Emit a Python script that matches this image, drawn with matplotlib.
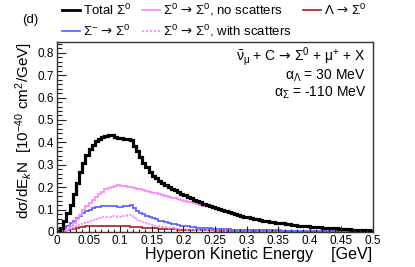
import numpy as np
import matplotlib
matplotlib.use("Agg")
import matplotlib.pyplot as plt
from matplotlib.lines import Line2D
from matplotlib.ticker import MultipleLocator, FixedLocator

plt.rcParams['font.family'] = ['Liberation Sans', 'DejaVu Sans']
plt.rcParams['mathtext.fontset'] = 'custom'
plt.rcParams['mathtext.rm'] = 'Liberation Sans'
plt.rcParams['mathtext.it'] = 'Liberation Sans:italic'
plt.rcParams['mathtext.bf'] = 'Liberation Sans:bold'
plt.rcParams['mathtext.sf'] = 'Liberation Sans'
plt.rcParams['mathtext.cal'] = 'DejaVu Sans'

# ---------------- data (100 bins, width 0.005 GeV) ----------------
e_min, e_max, n_bins = 0.0, 0.5, 100

total = [0.005, 0.02, 0.05, 0.085, 0.12, 0.17, 0.22, 0.27, 0.31, 0.345,
         0.37, 0.39, 0.405, 0.415, 0.423, 0.428, 0.432, 0.431, 0.426, 0.42,
         0.418, 0.416, 0.416, 0.41, 0.385, 0.36, 0.335, 0.31, 0.29, 0.27,
         0.252, 0.24, 0.228, 0.218, 0.21, 0.202, 0.194, 0.186, 0.178, 0.17,
         0.163, 0.157, 0.15, 0.144, 0.139, 0.133, 0.127, 0.122, 0.116, 0.111,
         0.106, 0.101, 0.096, 0.092, 0.088, 0.084, 0.08, 0.076, 0.072, 0.069,
         0.065, 0.062, 0.059, 0.056, 0.053, 0.05, 0.048, 0.046, 0.044, 0.042,
         0.04, 0.038, 0.036, 0.034, 0.032, 0.031, 0.029, 0.028, 0.026, 0.025,
         0.024, 0.023, 0.022, 0.021, 0.02, 0.019, 0.018, 0.017, 0.016, 0.015,
         0.014, 0.013, 0.012, 0.011, 0.01, 0.009, 0.008, 0.008, 0.007, 0.006]

sig0_noscat = [0.0, 0.003, 0.008, 0.015, 0.025, 0.04, 0.058, 0.078, 0.097, 0.115,
               0.13, 0.145, 0.158, 0.17, 0.18, 0.19, 0.197, 0.203, 0.207, 0.208,
               0.207, 0.205, 0.203, 0.2, 0.197, 0.194, 0.191, 0.188, 0.184, 0.18,
               0.176, 0.172, 0.168, 0.164, 0.16, 0.157, 0.153, 0.15, 0.146, 0.142,
               0.139, 0.135, 0.132, 0.128, 0.125, 0.121, 0.117, 0.114, 0.11, 0.106,
               0.102, 0.098, 0.094, 0.09, 0.086, 0.082, 0.078, 0.074, 0.071, 0.067,
               0.064, 0.06, 0.057, 0.054, 0.051, 0.048, 0.046, 0.044, 0.042, 0.04,
               0.038, 0.036, 0.034, 0.032, 0.03, 0.029, 0.027, 0.026, 0.024, 0.023,
               0.022, 0.021, 0.02, 0.019, 0.018, 0.017, 0.016, 0.015, 0.014, 0.013,
               0.012, 0.011, 0.011, 0.01, 0.009, 0.008, 0.007, 0.007, 0.006, 0.005]

sigm = [0.002, 0.008, 0.018, 0.028, 0.038, 0.05, 0.062, 0.073, 0.083, 0.092,
        0.099, 0.105, 0.11, 0.113, 0.115, 0.116, 0.116, 0.115, 0.114, 0.113,
        0.113, 0.114, 0.118, 0.122, 0.105, 0.095, 0.087, 0.08, 0.073, 0.067,
        0.061, 0.056, 0.051, 0.047, 0.043, 0.04, 0.037, 0.034, 0.031, 0.029,
        0.027, 0.025, 0.023, 0.021, 0.02, 0.019, 0.018, 0.017, 0.016, 0.015,
        0.014, 0.013, 0.013, 0.012, 0.012, 0.011, 0.011, 0.01, 0.01, 0.009,
        0.009, 0.008, 0.008, 0.008, 0.008, 0.008, 0.007, 0.007, 0.007, 0.007,
        0.007, 0.006, 0.006, 0.006, 0.006, 0.006, 0.005, 0.005, 0.005, 0.005,
        0.005, 0.004, 0.004, 0.004, 0.004, 0.004, 0.003, 0.003, 0.003, 0.003,
        0.003, 0.002, 0.002, 0.002, 0.002, 0.002, 0.002, 0.002, 0.002, 0.002]

sig0_scat = [0.0, 0.002, 0.005, 0.009, 0.014, 0.02, 0.026, 0.032, 0.038, 0.044,
             0.05, 0.055, 0.059, 0.063, 0.066, 0.068, 0.069, 0.07, 0.07, 0.069,
             0.069, 0.072, 0.076, 0.078, 0.062, 0.055, 0.05, 0.045, 0.04, 0.036,
             0.032, 0.029, 0.026, 0.023, 0.021, 0.019, 0.017, 0.015, 0.014, 0.013,
             0.012, 0.011, 0.01, 0.009, 0.009, 0.008, 0.008, 0.007, 0.007, 0.006,
             0.006, 0.005, 0.005, 0.005, 0.005, 0.005, 0.004, 0.004, 0.004, 0.004,
             0.004, 0.003, 0.003, 0.003, 0.003, 0.003, 0.003, 0.003, 0.003, 0.003,
             0.003, 0.002, 0.002, 0.002, 0.002, 0.002, 0.002, 0.002, 0.002, 0.002,
             0.002, 0.002, 0.002, 0.002, 0.002, 0.002, 0.001, 0.001, 0.001, 0.001,
             0.001, 0.001, 0.001, 0.001, 0.001, 0.001, 0.001, 0.001, 0.001, 0.001]

lam = [0.001, 0.003, 0.006, 0.009, 0.012, 0.015, 0.018, 0.021, 0.023, 0.025,
       0.026, 0.027, 0.028, 0.028, 0.028, 0.028, 0.028, 0.027, 0.027, 0.026,
       0.026, 0.025, 0.025, 0.024, 0.023, 0.022, 0.021, 0.02, 0.019, 0.018,
       0.017, 0.016, 0.015, 0.014, 0.014, 0.013, 0.012, 0.012, 0.011, 0.011,
       0.01, 0.01, 0.009, 0.009, 0.008, 0.008, 0.008, 0.007, 0.007, 0.007,
       0.006, 0.006, 0.006, 0.005, 0.005, 0.005, 0.005, 0.004, 0.004, 0.004,
       0.004, 0.003, 0.003, 0.003, 0.003, 0.003, 0.003, 0.003, 0.003, 0.003,
       0.003, 0.003, 0.002, 0.002, 0.002, 0.002, 0.002, 0.002, 0.002, 0.002,
       0.002, 0.002, 0.002, 0.002, 0.002, 0.001, 0.001, 0.001, 0.001, 0.001,
       0.001, 0.001, 0.001, 0.001, 0.001, 0.001, 0.001, 0.001, 0.001, 0.001]

ARROW = r'$\mathcal{→}$'
labels = ['Total Σ$^{0}$',
          'Σ$^{-}$ ' + ARROW + ' Σ$^{0}$',
          'Σ$^{0}$ ' + ARROW + ' Σ$^{0}$, no scatters',
          'Σ$^{0}$ ' + ARROW + ' Σ$^{0}$, with scatters',
          'Λ ' + ARROW + ' Σ$^{0}$']

x_ticks = [0, 0.05, 0.1, 0.15, 0.2, 0.25, 0.3, 0.35, 0.4, 0.45, 0.5]
x_ticklabels = ['0', '0.05', '0.1', '0.15', '0.2', '0.25', '0.3', '0.35', '0.4', '0.45', '0.5']
y_ticks = [0, 0.1, 0.2, 0.3, 0.4, 0.5, 0.6, 0.7, 0.8]
y_ticklabels = ['0', '0.1', '0.2', '0.3', '0.4', '0.5', '0.6', '0.7', '0.8']

# ---------------- figure ----------------
W, H = 415, 267
fig = plt.figure(figsize=(W / 100, H / 100), dpi=100)
ax = fig.add_axes([57 / W, 1 - 232 / H, (373 - 57) / W, (232 - 42) / H])

edges = np.linspace(e_min, e_max, n_bins + 1)

c_black = '#000000'
c_pink = '#ff88ff'
c_blue = '#6464ff'
c_red = '#a83232'

ax.stairs(lam, edges, color=c_red, lw=1.3, baseline=None)
ax.stairs(sig0_scat, edges, color=c_pink, lw=1.3, ls=(0, (1.2, 1.0)), baseline=None)
ax.stairs(sigm, edges, color=c_blue, lw=1.3, baseline=None)
ax.stairs(sig0_noscat, edges, color=c_pink, lw=1.3, baseline=None)
ax.stairs(total, edges, color=c_black, lw=2.3, baseline=None)

ax.set_xlim(0, 0.5)
ax.set_ylim(0, 0.848)

ax.xaxis.set_major_locator(FixedLocator(x_ticks))
ax.set_xticklabels(x_ticklabels)
ax.xaxis.set_minor_locator(MultipleLocator(0.01))
ax.yaxis.set_major_locator(FixedLocator(y_ticks))
ax.set_yticklabels(y_ticklabels)
ax.yaxis.set_minor_locator(MultipleLocator(0.02))

ax.tick_params(axis='both', which='both', direction='in', top=False, right=False,
               labelsize=8.5, colors='#222222', labelcolor='black')
ax.tick_params(axis='y', which='major', length=6.5, width=0.8, pad=2)
ax.tick_params(axis='y', which='minor', length=3.3, width=0.8)
ax.tick_params(axis='x', which='major', length=4.5, width=0.8, pad=2)
ax.tick_params(axis='x', which='minor', length=2.3, width=0.8)
for s in ax.spines.values():
    s.set_linewidth(1.0)
    s.set_color('#333333')

# axis titles
fig.text(372 / W, 1 - 255 / H, 'Hyperon Kinetic Energy    [GeV]', ha='right', va='center',
         fontsize=11.5)
fig.text(24 / W, 1 - 42 / H, 'dσ/dE$_{k}$N  [10$^{-40}$ cm$^{2}$/GeV]', rotation=90,
         ha='center', va='top', fontsize=11)

# panel tag
fig.text(22 / W, 1 - 20 / H, '(d)', ha='left', va='center', fontsize=9.5)

# annotation
fig.text(366 / W, 1 - 57 / H,
         r'$\bar{\mathrm{ν}}_{\mathrm{μ}}$ + C ' + ARROW + r' Σ$^{0}$ + μ$^{+}$ + X',
         ha='right', va='center', fontsize=10)
fig.text(366 / W, 1 - 76 / H, r'α$_{\mathrm{Λ}}$ = 30 MeV', ha='right', va='center', fontsize=10)
fig.text(366 / W, 1 - 93 / H, r'α$_{\mathrm{Σ}}$ = -110 MeV', ha='right', va='center', fontsize=10)

# legend (manual)
leg = [
    (62, 10, c_black, '-', 2.0, labels[0]),
    (62, 31, c_blue, '-', 1.3, labels[1]),
    (142, 10, c_pink, '-', 1.3, labels[2]),
    (142, 31, c_pink, (0, (1.2, 1.0)), 1.3, labels[3]),
    (303, 10, c_red, '-', 1.3, labels[4]),
]
for x0, y0, col, ls, lw, lab in leg:
    fig.add_artist(Line2D([x0 / W, (x0 + 18) / W], [1 - y0 / H, 1 - y0 / H],
                          color=col, ls=ls, lw=lw, transform=fig.transFigure))
    fig.text((x0 + 21) / W, 1 - y0 / H, lab, ha='left', va='center', fontsize=9.5)

fig.savefig('out.png', dpi=100)
